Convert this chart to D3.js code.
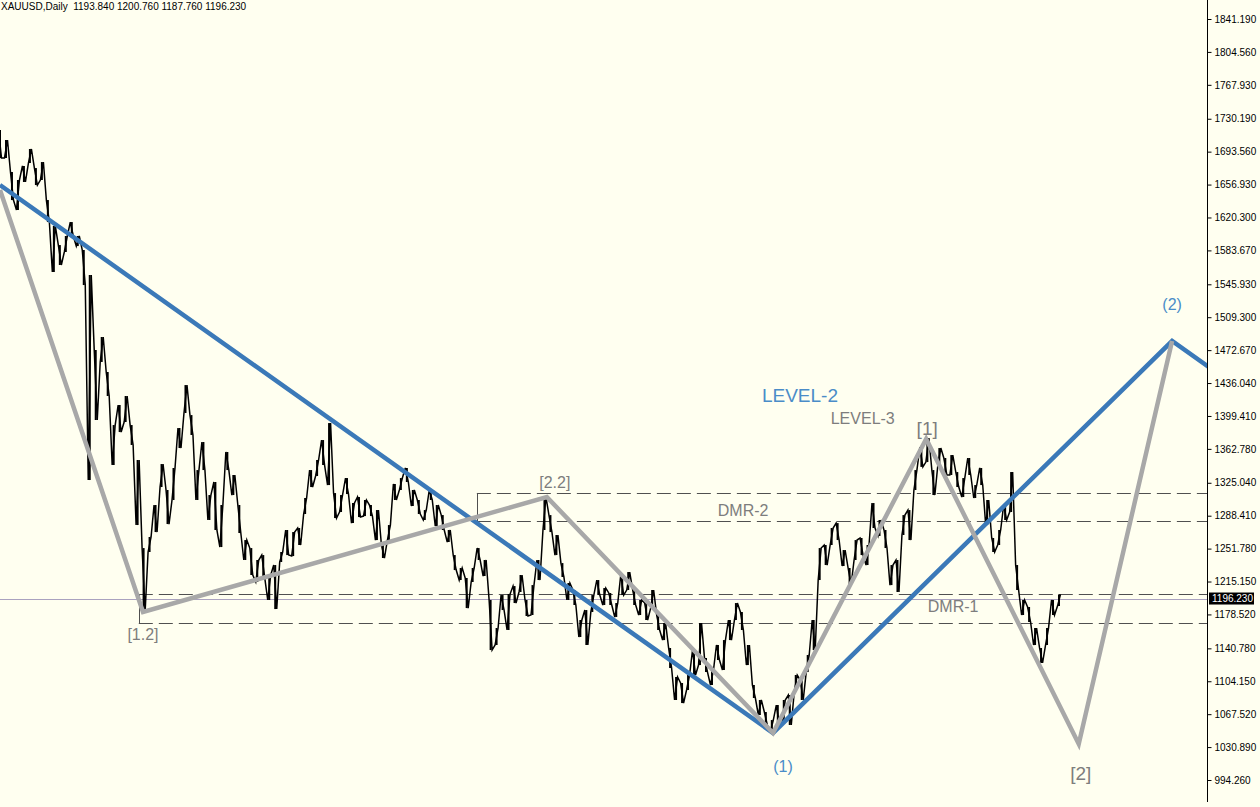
<!DOCTYPE html>
<html><head><meta charset="utf-8">
<script src="https://cdn.jsdelivr.net/npm/d3@7/dist/d3.min.js"></script>
<style>html,body{margin:0;padding:0;background:#fffff0;}svg{display:block;}</style>
</head><body>
<svg id="c" width="1260" height="807"></svg>
<script>
// ---------------- DATA ----------------
const symbolTitle = "XAUUSD,Daily  1193.840 1200.760 1187.760 1196.230";
const lastPrice = 1196.23;
const barHigh = [
1717.6,1706.5,1670.9,1662.0,1677.6,1696.5,1675.3,1682.0,1639.7,1610.8,
1589.6,1599.7,1615.2,1599.7,1584.1,1556.3,1472.8,1487.3,1448.3,1389.3,
1411.6,1421.6,1389.3,1350.4,1252.4,1264.7,1300.3,1345.9,1317.0,1341.5,
1386.0,1433.8,1400.4,1339.2,1370.4,1311.4,1325.9,1300.3,1359.3,1333.7,
1300.3,1261.3,1252.4,1239.1,1244.6,1222.4,1233.5,1248.0,1272.5,1270.2,
1274.7,1308.1,1339.2,1350.4,1372.6,1391.5,1313.6,1311.4,1330.3,1302.5,
1309.2,1305.9,1300.3,1294.7,1255.8,1278.0,1323.7,1330.3,1341.5,1317.0,
1305.9,1294.7,1317.0,1300.3,1289.1,1272.5,1244.6,1230.2,1219.1,1230.2,
1252.4,1239.1,1194.6,1163.4,1200.1,1201.2,1210.1,1222.4,1194.6,1211.2,
1239.1,1309.2,1289.1,1266.9,1235.7,1213.5,1205.7,1172.3,1183.4,1200.1,
1216.8,1207.9,1202.4,1191.2,1222.4,1225.7,1205.7,1194.6,1191.2,1205.7,
1177.9,1169.0,1141.2,1108.9,1102.2,1111.1,1138.9,1169.0,1130.0,1116.7,
1144.5,1150.0,1172.3,1191.2,1181.2,1144.5,1100.0,1083.3,1069.9,1061.0,
1077.7,1083.3,1088.8,1111.1,1105.5,1133.4,1172.3,1252.4,1255.8,1274.7,
1280.2,1250.2,1230.2,1261.3,1263.6,1255.8,1302.5,1283.6,1272.5,1233.5,
1239.1,1289.1,1294.7,1339.2,1364.8,1374.9,1339.2,1363.7,1352.6,1355.9,
1337.0,1330.3,1352.6,1322.5,1341.5,1305.9,1263.6,1272.5,1300.3,1337.0,
1233.5,1194.6,1186.8,1163.4,1141.2,1163.4,1194.6,1200.8];
const barLow = [
1686.5,1686.5,1639.7,1628.6,1659.8,1680.9,1656.4,1662.0,1615.2,1559.6,
1567.4,1581.9,1599.7,1588.5,1545.1,1328.1,1394.9,1459.5,1421.6,1344.8,
1381.5,1392.7,1367.1,1278.0,1181.2,1248.0,1270.2,1320.3,1279.1,1305.9,
1363.7,1402.7,1378.2,1305.9,1339.2,1283.6,1272.5,1253.5,1339.2,1311.4,
1269.1,1239.1,1222.4,1214.6,1219.1,1194.6,1184.5,1236.9,1244.6,1243.5,
1255.8,1290.3,1320.3,1332.6,1344.8,1322.5,1285.8,1292.5,1312.5,1280.2,
1286.9,1288.0,1288.0,1261.3,1241.3,1261.3,1305.9,1317.0,1325.9,1299.2,
1290.3,1283.6,1305.9,1276.9,1272.5,1259.1,1227.9,1216.8,1185.6,1214.6,
1239.1,1221.3,1138.9,1144.5,1183.4,1161.2,1191.2,1203.5,1176.8,1177.9,
1216.8,1272.5,1270.2,1244.6,1220.2,1194.6,1189.0,1153.4,1144.5,1181.2,
1200.1,1189.0,1189.0,1175.7,1200.1,1205.7,1189.0,1177.9,1172.3,1185.6,
1161.2,1150.0,1118.9,1083.3,1079.9,1094.4,1111.1,1122.2,1114.4,1100.0,
1127.8,1116.7,1150.0,1172.3,1161.2,1122.2,1085.5,1066.6,1055.5,1047.7,
1055.5,1058.8,1055.5,1092.2,1083.3,1114.4,1138.9,1216.8,1233.5,1255.8,
1261.3,1232.4,1211.2,1239.1,1244.6,1233.5,1274.7,1265.8,1252.4,1211.2,
1203.5,1266.9,1261.3,1317.0,1342.7,1348.1,1311.4,1344.8,1333.7,1333.7,
1320.3,1309.2,1333.7,1308.1,1322.5,1278.0,1248.0,1255.8,1283.6,1292.5,
1205.7,1177.9,1170.1,1144.5,1124.5,1144.5,1177.9,1187.8];
const priceTicks = [1841.19,1804.56,1767.93,1730.19,1693.56,1656.93,1620.30,1583.67,
  1545.93,1509.30,1472.67,1436.04,1399.41,1362.78,1325.04,1288.41,1251.78,1215.15,
  1178.52,1140.78,1104.15,1067.52,1030.89,994.26];
// wave pivots (sample index, price)
const minorIdx    = [0, 23.9, 91.4, 129.2, 154.8, 180.3, 195.9];
const minorPrice  = [1651.0, 1181.2, 1309.2, 1046.6, 1373.8, 1034.3, 1482.8];
const minorLabels = ["", "[1.2]", "[2.2]", "", "[1]", "[2]", ""];
const majorIdx    = [0, 129.2, 195.9, 206];
const majorPrice  = [1656.4, 1046.6, 1482.8, 1435.0];
const majorLabels = ["", "(1)", "(2)", ""];
// horizontal levels
const levelPrice    = [1313.7, 1282.5, 1201.2, 1169.0];
const levelStartIdx = [79.7, 79.7, 23.2, 23.2];
// free text annotations
const noteText  = ["LEVEL-2", "LEVEL-3", "DMR-2", "DMR-1"];
const noteIdx   = [133.7, 144.2, 124.2, 159.3];
const notePrice = [1422.7, 1397.1, 1294.7, 1186.8];

// ---------------- STYLE / LAYOUT ----------------
const W = 1260, H = 807, plotR = 1207;
const BLUE = "#3b79b8", GRAY = "#a8a8a8", TXTGRAY = "#7d7d7d", TXTBLUE = "#4a8cc8";
const minorLabelOff = [null, [0, 22, 16], [8, -15, 16], null, [1, -10, 19], [2, 29, 19], null];
const majorLabelOff = [null, [10, 34, 16], [0, -37, 16], null];
const noteStyle = [[BLUE, 19], [TXTGRAY, 16], [TXTGRAY, 16], [TXTGRAY, 16]];
const FONT = "'Liberation Sans', Arial, sans-serif";

const svg = d3.select("#c");
svg.append("rect").attr("width", W).attr("height", H).attr("fill", "#fffff0");

const x = d3.scaleLinear().domain([0, barHigh.length - 1]).range([0, 1059]);
const y = d3.scaleLinear().domain([994.26, 1841.19]).range([780, 19]);

svg.append("clipPath").attr("id", "plot").append("rect")
  .attr("x", 0).attr("y", 0).attr("width", plotR).attr("height", H);
const g = svg.append("g").attr("clip-path", "url(#plot)");

// current price line
g.append("line").attr("x1", 0).attr("x2", plotR)
  .attr("y1", Math.round(y(lastPrice)) + 0.5).attr("y2", Math.round(y(lastPrice)) + 0.5)
  .attr("stroke", "#aaa2bf").attr("stroke-width", 1);

// dashed levels with brackets
levelPrice.forEach((p, i) => {
  const yy = Math.round(y(p)) + 0.5;
  g.append("line").attr("x1", x(levelStartIdx[i])).attr("x2", plotR)
    .attr("y1", yy).attr("y2", yy)
    .attr("stroke", "#505050").attr("stroke-width", 1).attr("stroke-dasharray", "14,6");
});
[[0, 1], [2, 3]].forEach(([a, b]) => {
  const xx = Math.round(x(levelStartIdx[a])) + 0.5;
  g.append("line").attr("x1", xx).attr("x2", xx)
    .attr("y1", y(levelPrice[a])).attr("y2", y(levelPrice[b]))
    .attr("stroke", "#505050").attr("stroke-width", 1);
});

// price series: range bars + zigzag
const bars = barHigh.map((h, i) => ({ i, h, l: barLow[i] }));
g.append("g").selectAll("line").data(bars).join("line")
  .attr("x1", d => x(d.i)).attr("x2", d => x(d.i))
  .attr("y1", d => y(d.h)).attr("y2", d => y(d.l))
  .attr("stroke", "#000").attr("stroke-width", 2);
const zz = [];
bars.forEach(d => {
  const a = d.i % 2 === 0 ? [d.h, d.l] : [d.l, d.h];
  zz.push([x(d.i) - 1.5, y(a[0])]);
  zz.push([x(d.i) + 1.5, y(a[1])]);
});
g.append("path").attr("d", d3.line()(zz)).attr("fill", "none")
  .attr("stroke", "#000").attr("stroke-width", 1.5);

// wave lines
const waveLine = d3.line().x(d => x(d[0])).y(d => y(d[1]));
g.append("path").attr("d", waveLine(majorIdx.map((v, i) => [v, majorPrice[i]])))
  .attr("fill", "none").attr("stroke", BLUE).attr("stroke-width", 4.5).attr("stroke-linejoin", "miter");
g.append("path").attr("d", waveLine(minorIdx.map((v, i) => [v, minorPrice[i]])))
  .attr("fill", "none").attr("stroke", GRAY).attr("stroke-width", 4.5).attr("stroke-linejoin", "miter");

// wave labels
minorLabels.forEach((t, i) => {
  if (!t) return;
  const o = minorLabelOff[i];
  g.append("text").attr("x", x(minorIdx[i]) + o[0]).attr("y", y(minorPrice[i]) + o[1])
    .attr("text-anchor", "middle").attr("dominant-baseline", "central")
    .attr("font-family", FONT).attr("font-size", o[2]).attr("fill", TXTGRAY).text(t);
});
majorLabels.forEach((t, i) => {
  if (!t) return;
  const o = majorLabelOff[i];
  g.append("text").attr("x", x(majorIdx[i]) + o[0]).attr("y", y(majorPrice[i]) + o[1])
    .attr("text-anchor", "middle").attr("dominant-baseline", "central")
    .attr("font-family", FONT).attr("font-size", o[2]).attr("fill", TXTBLUE).text(t);
});
noteText.forEach((t, i) => {
  g.append("text").attr("x", x(noteIdx[i])).attr("y", y(notePrice[i]))
    .attr("text-anchor", "middle").attr("dominant-baseline", "central")
    .attr("font-family", FONT).attr("font-size", noteStyle[i][1])
    .attr("fill", i === 0 ? TXTBLUE : noteStyle[i][0]).text(t);
});

// right price axis
const axis = d3.axisRight(y).tickValues(priceTicks).tickFormat(d3.format(".3f"))
  .tickSize(4).tickPadding(3);
const ag = svg.append("g").attr("transform", `translate(${plotR + 0.5},0)`).call(axis);
ag.select(".domain").remove();
ag.selectAll("text").attr("font-family", FONT).attr("font-size", 10).attr("fill", "#000");
ag.selectAll("line").attr("stroke", "#000");
svg.append("line").attr("x1", plotR + 0.5).attr("x2", plotR + 0.5).attr("y1", 0).attr("y2", 802)
  .attr("stroke", "#000").attr("stroke-width", 1);

// current price tag
const ly = y(lastPrice);
svg.append("rect").attr("x", plotR + 2).attr("y", ly - 6).attr("width", 45).attr("height", 12).attr("fill", "#000");
svg.append("text").attr("x", plotR + 5).attr("y", ly).attr("dominant-baseline", "central")
  .attr("font-family", FONT).attr("font-size", 10).attr("fill", "#fff").text(d3.format(".3f")(lastPrice));

// title
svg.append("text").attr("x", 1).attr("y", 10).attr("font-family", FONT).attr("font-size", 10)
  .attr("fill", "#000").attr("xml:space", "preserve").style("white-space", "pre").text(symbolTitle);
</script>
</body></html>
